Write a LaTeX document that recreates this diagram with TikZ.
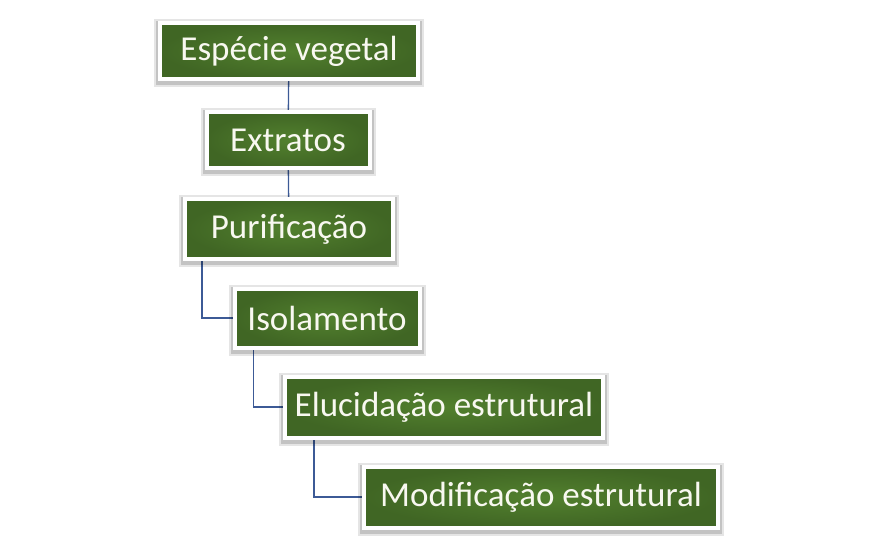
\documentclass[tikz,border=0pt]{standalone}
\usepackage{fontspec}
\setmainfont{Carlito}
\usetikzlibrary{positioning,shadows}
\pgfdeclarelayer{background}
\pgfsetlayers{background,main}
\definecolor{leaf}{RGB}{82,128,46}
\definecolor{leafdark}{RGB}{64,102,36}
\definecolor{linkblue}{RGB}{60,90,150}
\definecolor{paper}{RGB}{248,248,240}

\begin{document}
\begin{tikzpicture}[x=1pt,y=-1pt,
    etapa/.style={draw=white,line width=4pt,inner color=leaf,outer color=leafdark,
      text=paper,minimum height=56pt,inner sep=0pt,
      font=\fontsize{35}{40}\selectfont,
      preaction={draw=black,draw opacity=0.10,line width=12pt,transform canvas={yshift=-2pt}},
      preaction={draw=black,draw opacity=0.15,line width=8pt,transform canvas={yshift=-2pt}}},
    liga/.style={draw=linkblue,line width=1.3pt}]
   \useasboundingbox (0,0) rectangle (886,540);
   \node[etapa,minimum width=258pt] (especie) at (289,51) {Espécie vegetal};
   \node[etapa,minimum width=163pt] (extratos) at (288,140) {Extratos};
   \node[etapa,minimum width=208pt,minimum height=60pt] (purif) at (289,229) {Purificação};
   \node[etapa,minimum width=185pt,minimum height=59pt] (isol) at (327,318) {Isolamento};
   \node[etapa,minimum width=318pt,minimum height=61pt] (eluc) at (444,407) {Elucidação estrutural};
   \node[etapa,minimum width=354pt,minimum height=61pt] (modif) at (541,497) {Modificação estrutural};
   \begin{pgfonlayer}{background}
    \path[liga]
    (especie) edge (extratos)
    (extratos) edge (purif);
    \draw[liga] ([xshift=19pt]purif.south west) |- (isol.west);
    \draw[liga] ([xshift=21pt]isol.south west) |- (eluc.west);
    \draw[liga] ([xshift=31pt]eluc.south west) |- (modif.west);
   \end{pgfonlayer}
\end{tikzpicture}
\end{document}
